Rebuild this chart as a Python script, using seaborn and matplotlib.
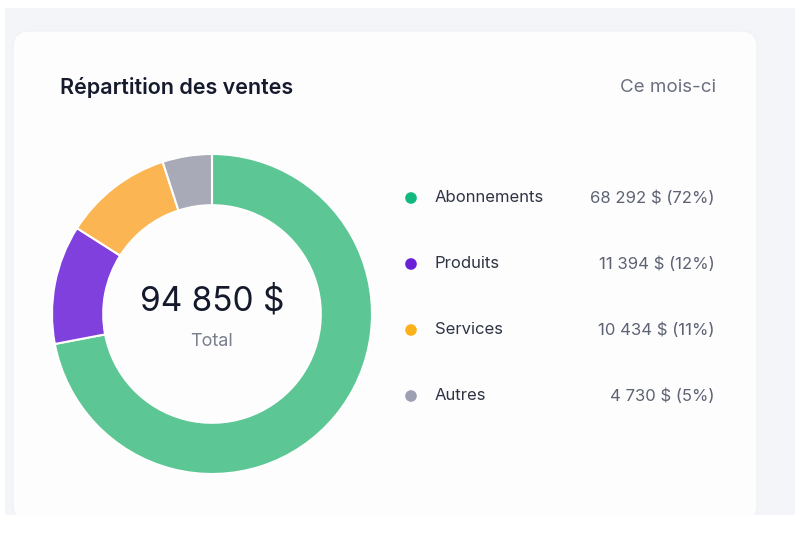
import matplotlib
matplotlib.use('Agg')
import matplotlib.pyplot as plt
from matplotlib.patches import FancyBboxPatch, Rectangle
import seaborn as sns
import pandas as pd

# Data | Données
categories = ['Abonnements', 'Produits', 'Services', 'Autres']
values = [68292, 11394, 10434, 4730]
value_labels = ['68 292 $ (72%)', '11 394 $ (12%)', '10 434 $ (11%)', '4 730 $ (5%)']
total_label = '94 850 $'
ring_colors = ['#5CC794', '#8040DE', '#FBB653', '#A8AAB8']
dot_colors = ['#12B97F', '#6A1FD6', '#FDB21C', '#9DA0B0']

sns.set_theme(style='white')
plt.rcParams['font.family'] = ['Inter', 'DejaVu Sans']

W, H = 803, 542
fig = plt.figure(figsize=(W / 100, H / 100), dpi=100)
fig.patch.set_facecolor('white')

# Background and card | Fond et carte
bg = fig.add_axes([0, 0, 1, 1])
bg.set_xlim(0, W)
bg.set_ylim(H, 0)
bg.axis('off')
bg.add_patch(Rectangle((5, 8), 790, 507, facecolor='#F4F5F8', edgecolor='none'))
bg.add_patch(FancyBboxPatch((13, 31), 744, 490, boxstyle='round,pad=0,rounding_size=16',
                            facecolor='#FDFDFE', edgecolor='#F0F1F4', lw=0.8))
bg.add_patch(Rectangle((5, 515), 790, 27, facecolor='white', edgecolor='none'))

bg.text(60, 88, 'Répartition des ventes', fontsize=15.5, fontweight='semibold',
        color='#151A2C', va='center', ha='left')
bg.text(716, 88, 'Ce mois-ci', fontsize=13.5, color='#6B7080', va='center', ha='right')

# Legend | Légende
legend = pd.DataFrame({'cat': categories, 'label': value_labels,
                       'y': [198 + 66 * i for i in range(len(categories))]})
legend['x'] = 411
sns.scatterplot(data=legend, x='x', y='y', hue='cat', palette=dot_colors, s=70,
                edgecolor='none', legend=False, ax=bg)
bg.set_xlim(0, W)
bg.set_ylim(H, 0)
for _, row in legend.iterrows():
    bg.text(435, row['y'], row['cat'], fontsize=12, color='#2E3444', va='center', ha='left')
    bg.text(715, row['y'], row['label'], fontsize=12, color='#5E6373', va='center', ha='right')

# Donut | Anneau
cx, cy, r = 212, 314, 160
ax = fig.add_axes([(cx - r) / W, (H - cy - r) / H, 2 * r / W, 2 * r / H])
ax.pie(values, colors=ring_colors, startangle=90, counterclock=False, radius=1,
       wedgeprops=dict(width=0.32, edgecolor='white', linewidth=1.5))
ax.set_xlim(-1, 1)
ax.set_ylim(-1, 1)
ax.axis('off')
ax.text(0, 0.08, total_label, fontsize=24, color='#141A2B', ha='center', va='center')
ax.text(0, -0.17, 'Total', fontsize=13, color='#7A7F8E', ha='center', va='center')

fig.savefig('out.png', dpi=100, facecolor='white')
